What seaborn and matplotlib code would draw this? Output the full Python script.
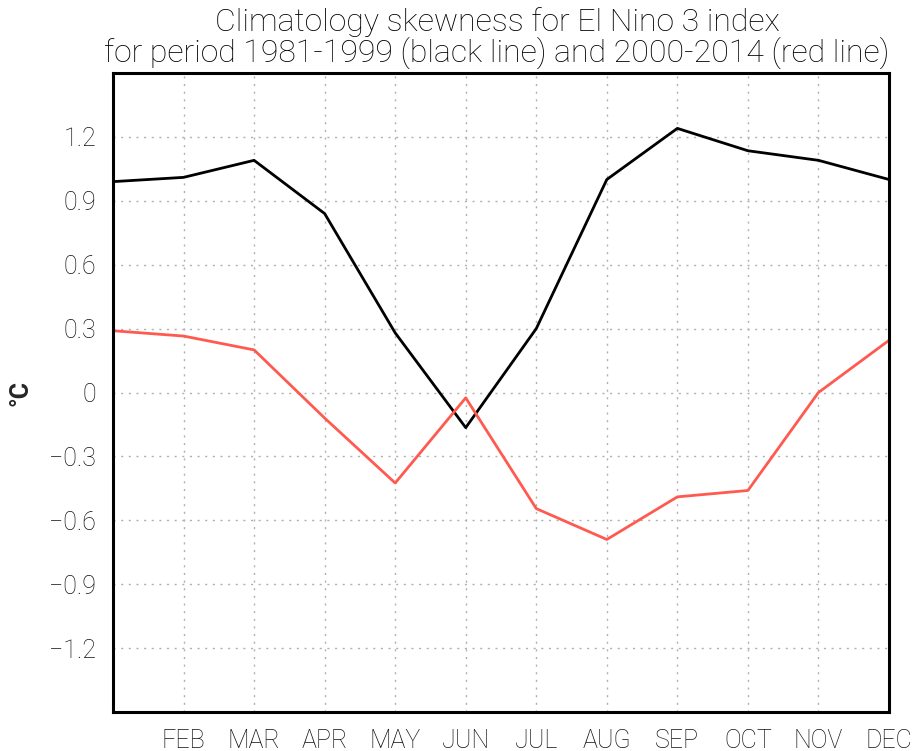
import matplotlib
matplotlib.use("Agg")
import matplotlib.pyplot as plt
import numpy as np
import pandas as pd
import seaborn as sns

# Monthly skewness of the Nino-3 index
months = ["JAN", "FEB", "MAR", "APR", "MAY", "JUN",
          "JUL", "AUG", "SEP", "OCT", "NOV", "DEC"]
skew_1981_1999 = [0.99, 1.01, 1.09, 0.84, 0.28, -0.165,
                  0.30, 1.00, 1.24, 1.135, 1.09, 1.00]
skew_2000_2014 = [0.29, 0.265, 0.20, -0.12, -0.425, -0.025,
                  -0.545, -0.69, -0.49, -0.46, 0.0, 0.245]
y_ticks = [-1.2, -0.9, -0.6, -0.3, 0, 0.3, 0.6, 0.9, 1.2]

month_num = np.arange(1, len(months) + 1)
df = pd.DataFrame({
    "month": np.concatenate([month_num, month_num]),
    "skew": skew_1981_1999 + skew_2000_2014,
    "period": ["1981-1999"] * 12 + ["2000-2014"] * 12,
})

sns.set_style("white")
plt.rcParams["font.family"] = ["Roboto", "DejaVu Sans"]
plt.rcParams["font.weight"] = "light"

fig = plt.figure(figsize=(9.17, 7.51), dpi=100)
ax = fig.add_axes([113 / 917, 39 / 751, 776 / 917, 639 / 751])

sns.lineplot(data=df, x="month", y="skew", hue="period",
             palette={"1981-1999": "#000000", "2000-2014": "#ff5a50"},
             linewidth=2.0, legend=False, ax=ax)

ax.set_xlim(1, 12)
ax.set_ylim(-1.5, 1.5)
ax.set_xticks(month_num[1:])
ax.set_xticklabels(months[1:])
ax.set_yticks(y_ticks)
ax.set_yticklabels(["0" if v == 0 else f"{v:.1f}".replace("-", "\u2212")
                    for v in y_ticks])

ax.grid(True, color="#b0b0b0", linestyle=(0, (1.5, 4)), linewidth=1.0)
ax.set_axisbelow(True)
for s in ax.spines.values():
    s.set_linewidth(2.2)
    s.set_color("black")
ax.tick_params(axis="both", direction="out", length=7, width=1.2,
               colors="black", labelsize=18, pad=5)
for lab in ax.get_xticklabels() + ax.get_yticklabels():
    lab.set_color("#111111")

ax.set_xlabel("")
ax.set_ylabel("°C", fontsize=18, fontweight="bold")
ax.yaxis.set_label_coords(-0.104, 0.5)

fig.suptitle("Climatology skewness for El Nino 3 index\n"
             "for period 1981-1999 (black line) and 2000-2014 (red line)",
             x=497 / 917, y=0.99, fontsize=23, linespacing=0.98,
             color="black", fontweight="light")

fig.savefig("out.png", dpi=100)
